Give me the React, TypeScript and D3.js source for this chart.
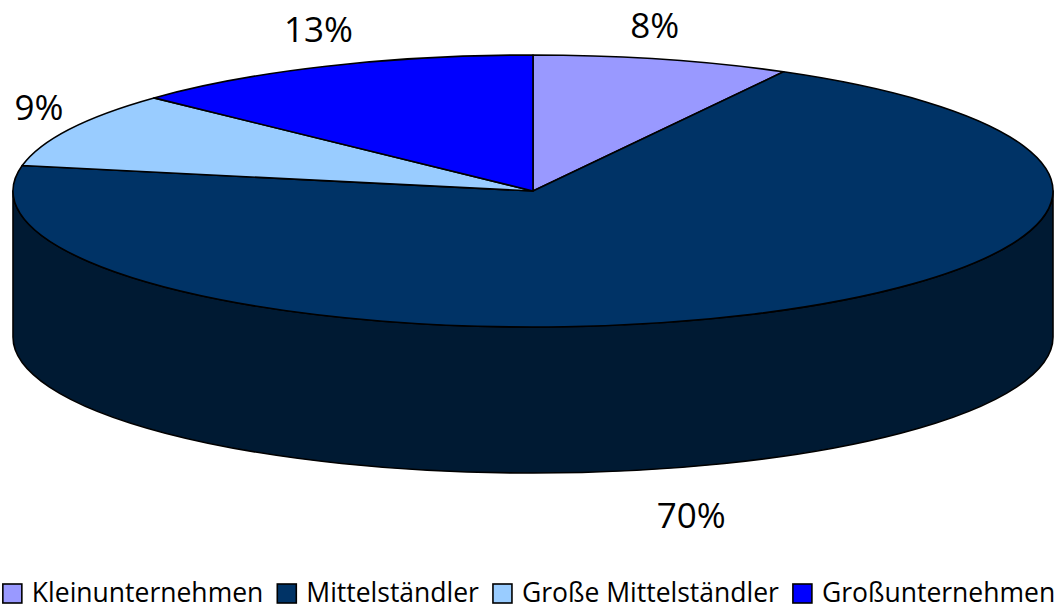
import * as d3 from 'd3'
import { useEffect, useRef } from 'react'

const categories = ['Kleinunternehmen', 'Mittelständler', 'Große Mittelständler', 'Großunternehmen']
const shares = [8, 70, 9, 13]
const colors = ['#9999FF', '#003366', '#99CCFF', '#0000FF']
const sideColors = ['#5c5c99', '#001a33', '#5c7a99', '#000099']

export default function App() {
    const svgRef = useRef<SVGSVGElement>(null)
    const width = 1062, height = 609
    const cx = 533, cy = 191, rx = 520, ry = 136, depth = 146

    useEffect(() => {
        const svg = d3.select(svgRef.current)
        svg.selectAll('*').remove()

        const pie = d3.pie<number>().sort(null).value(d => d)
        const arcs = pie(shares)

        const px = (a: number) => cx + rx * Math.sin(a)
        const py = (a: number) => cy - ry * Math.cos(a)

        // sides (only the front half of the rim is visible)
        const sides = svg.append('g')
        arcs.forEach((d, i) => {
            const s = Math.max(d.startAngle, Math.PI / 2)
            const e = Math.min(d.endAngle, 3 * Math.PI / 2)
            if (e <= s) return
            const large = e - s > Math.PI ? 1 : 0
            const path = `M${px(s)},${py(s)} A${rx},${ry} 0 ${large} 1 ${px(e)},${py(e)}`
                + ` L${px(e)},${py(e) + depth} A${rx},${ry} 0 ${large} 0 ${px(s)},${py(s) + depth} Z`
            sides.append('path')
                .attr('d', path)
                .attr('fill', sideColors[i])
                .attr('stroke', '#000')
                .attr('stroke-width', 1.6)
                .attr('stroke-linejoin', 'round')
        })

        // top faces
        svg.append('g').selectAll('path')
            .data(arcs)
            .join('path')
                .attr('d', d => {
                    const large = d.endAngle - d.startAngle > Math.PI ? 1 : 0
                    return `M${cx},${cy} L${px(d.startAngle)},${py(d.startAngle)}`
                        + ` A${rx},${ry} 0 ${large} 1 ${px(d.endAngle)},${py(d.endAngle)} Z`
                })
                .attr('fill', (d, i) => colors[i])
                .attr('stroke', '#000')
                .attr('stroke-width', 1.6)
                .attr('stroke-linejoin', 'round')

        // percentage labels
        const nudge = [[-15, 7], [-76, 18], [-4, -2], [4, 2]]
        svg.append('g').selectAll('text')
            .data(arcs)
            .join('text')
                .attr('x', (d, i) => {
                    const m = (d.startAngle + d.endAngle) / 2
                    return cx + (rx + 30) * Math.sin(m) + nudge[i][0]
                })
                .attr('y', (d, i) => {
                    const m = (d.startAngle + d.endAngle) / 2
                    const front = Math.cos(m) < 0 ? depth : 0
                    return cy - (ry + 42) * Math.cos(m) + front + 12 + nudge[i][1]
                })
                .attr('text-anchor', 'middle')
                .style('font', '500 35px "Open Sans", sans-serif')
                .attr('fill', '#000')
                .text(d => `${d.data}%`)

        // legend
        const legend = svg.append('g')
        const box = 19, gapText = 10, gapItem = 14
        let x = 0
        const items: { g: any; w: number }[] = []
        categories.forEach((c, i) => {
            const g = legend.append('g')
            g.append('rect')
                .attr('x', 0).attr('y', -box + 1)
                .attr('width', box).attr('height', box)
                .attr('fill', colors[i])
                .attr('stroke', '#000')
                .attr('stroke-width', 1.6)
            const t = g.append('text')
                .attr('x', box + gapText)
                .attr('y', 0)
                .style('font', '26.5px "Open Sans", sans-serif')
                .attr('fill', '#000')
                .text(c)
            const w = box + gapText + (t.node() as SVGTextElement).getComputedTextLength()
            items.push({ g, w })
        })
        const total = d3.sum(items, d => d.w) + gapItem * (items.length - 1)
        x = 529 - total / 2
        items.forEach(it => {
            it.g.attr('transform', `translate(${x},602)`)
            x += it.w + gapItem
        })
    }, [])

    return (
        <svg ref={svgRef} width={width} height={height}
            style={{ position: 'absolute', left: 0, top: 0, background: '#fff' }} />
    )
}
